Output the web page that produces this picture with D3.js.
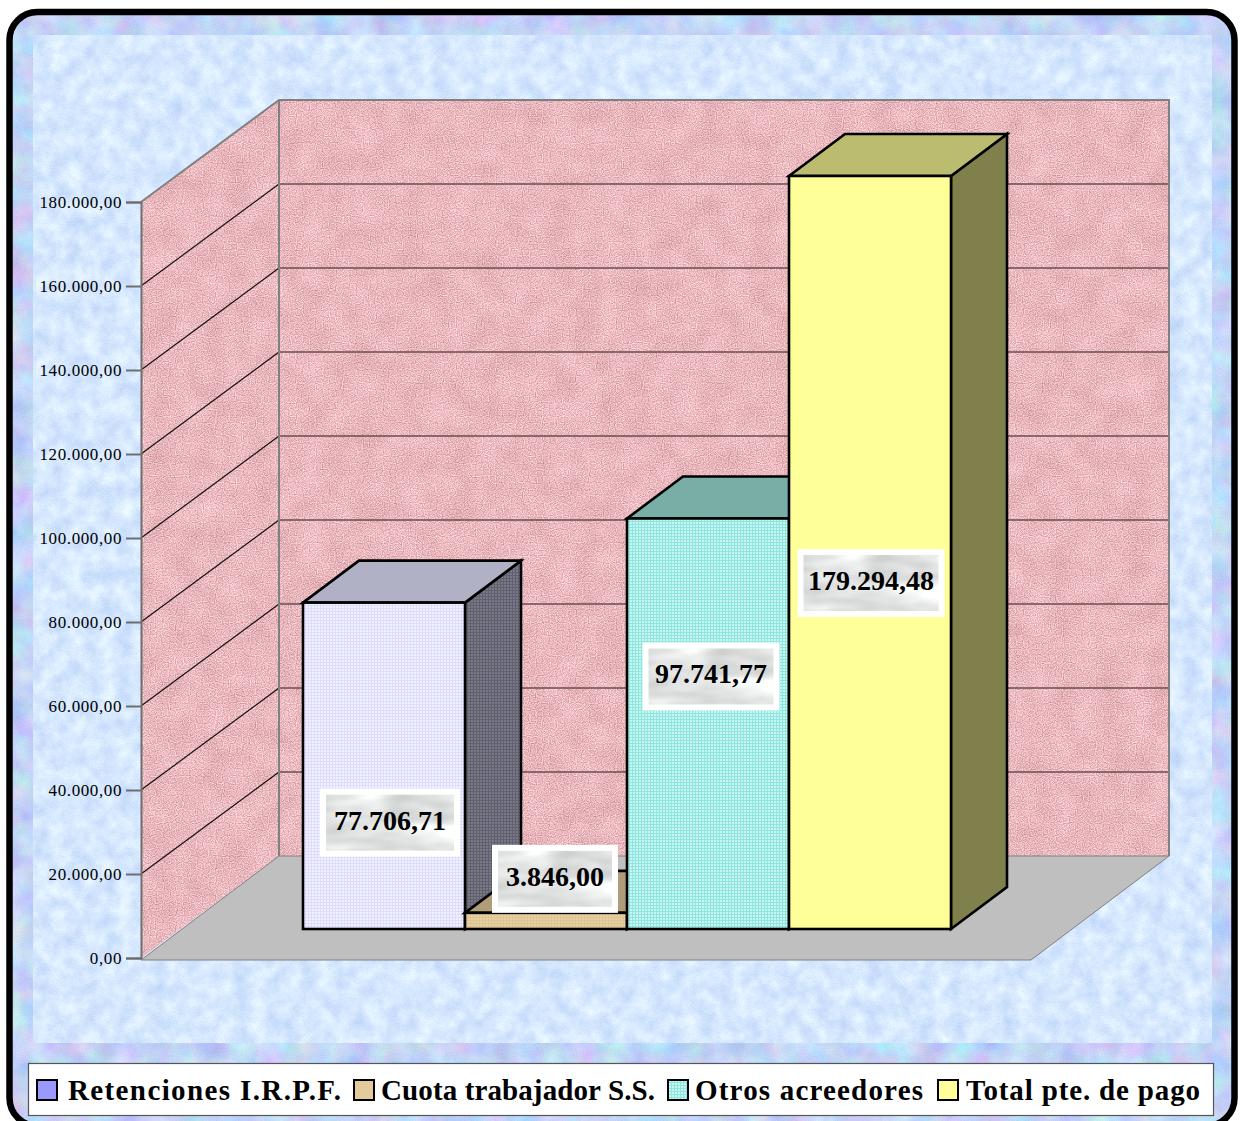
<!DOCTYPE html>
<html>
<head>
<meta charset="utf-8">
<script src="https://cdn.jsdelivr.net/npm/d3@7"></script>
<style>
  html, body { margin: 0; padding: 0; background: #fff; }
  svg { display: block; }
  text { font-family: "Liberation Serif", serif; fill: #000; }
</style>
</head>
<body>
<svg id="chart" width="1241" height="1121"></svg>
<script>
const categories = ["Retenciones I.R.P.F.", "Cuota trabajador S.S.", "Otros acreedores", "Total pte. de pago"];
const values = [77706.71, 3846.00, 97741.77, 179294.48];
const yTicks = [0, 20000, 40000, 60000, 80000, 100000, 120000, 140000, 160000, 180000];

const frontColors = ["url(#dotsLilac)", "url(#dotsSand)", "url(#dotsTeal)", "#ffff99"];
const topColors = ["#b1b1c6", "#b09c78", "#78aea6", "#bcbc70"];
const sideColors = ["url(#dotsSlate)", "#8f7f60", "#5f8f88", "#80804c"];
const legendColors = ["#9999ff", "#e3cb9b", "url(#dotsTeal)", "#ffff99"];
const legendSwatchX = [37, 354, 668, 938];
const legendTextX = [68, 381, 695, 966];
const legendTextWidth = [273, 274, 228, 234];
// label centre relative to the bar's top-left-front corner
const labelShift = [[87, 220], [90, -34], [84, 158], [82, 407]];
const labelSize = [[140, 68], [126, 68], [137, 68], [147, 68]];

const depthX = 138, depthY = -102;      // wall depth
const barDepthX = 56, barDepthY = -42;  // bar depth
const barBase = 929;

const svg = d3.select("#chart");
const defs = svg.append("defs");
const es = d3.formatLocale({ decimal: ",", thousands: ".", grouping: [3], currency: ["", "€"] });
const fmt = es.format(",.2f");

const y = d3.scaleLinear().domain([0, 180000]).range([958, 202]);
const x = d3.scaleBand().domain(categories).range([303, 951]);
const barH = (v) => y(0) - y(v);

// mono: one noise channel drives r, g and b; otherwise each channel has its own noise
function addTexture(id, base, fineAmp, coarseAmp, coarseFreq, seed, mono) {
  const f = defs.append("filter").attr("id", id)
    .attr("x", 0).attr("y", 0).attr("width", 1).attr("height", 1)
    .attr("color-interpolation-filters", "sRGB");
  const row = (c, amp, ch) => {
    const cols = [0, 0, 0, 0];
    cols[ch] = amp;
    return `${cols.join(" ")} ${c / 255 - amp / 2}`;
  };
  f.append("feTurbulence").attr("type", "fractalNoise").attr("baseFrequency", 0.85)
    .attr("numOctaves", 1).attr("seed", seed).attr("result", "fine");
  f.append("feColorMatrix").attr("in", "fine").attr("type", "matrix")
    .attr("values", `${row(base[0], fineAmp[0], 0)} ${row(base[1], fineAmp[1], 0)} ${row(base[2], fineAmp[2], 0)} 0 0 0 0 1`)
    .attr("result", "fineC");
  f.append("feTurbulence").attr("type", "fractalNoise").attr("baseFrequency", coarseFreq)
    .attr("numOctaves", 3).attr("seed", seed + 3).attr("result", "coarse");
  f.append("feColorMatrix").attr("in", "coarse").attr("type", "matrix")
    .attr("values", `${row(127.5, coarseAmp[0], 0)} ${row(127.5, coarseAmp[1], mono ? 0 : 1)} ${row(127.5, coarseAmp[2], mono ? 0 : 2)} 0 0 0 0 1`)
    .attr("result", "coarseC");
  f.append("feComposite").attr("in", "fineC").attr("in2", "coarseC").attr("operator", "arithmetic")
    .attr("k1", 0).attr("k2", 1).attr("k3", 1).attr("k4", -0.5).attr("result", "mix");
  f.append("feComposite").attr("in", "mix").attr("in2", "SourceAlpha").attr("operator", "in");
}

function addDots(id, bg, dot) {
  const p = defs.append("pattern").attr("id", id).attr("patternUnits", "userSpaceOnUse")
    .attr("width", 3).attr("height", 3);
  p.append("rect").attr("width", 3).attr("height", 3).attr("fill", bg);
  p.append("rect").attr("width", 2).attr("height", 2).attr("fill", dot);
}

addTexture("texOuter", [194, 212, 246], [0.1, 0.1, 0.06], [0.3, 0.3, 0.14], 0.035, 2, false);
addTexture("texInner", [214, 232, 254], [0.14, 0.1, 0.04], [0.22, 0.18, 0.05], 0.06, 7, true);
addTexture("texWall", [234, 184, 190], [0.6, 0.55, 0.5], [0.1, 0.12, 0.12], 0.04, 11, true);
addTexture("texMarble", [222, 224, 224], [0.03, 0.03, 0.03], [0.55, 0.55, 0.55], "0.012 0.035", 5, true);
addDots("dotsLilac", "#dcdcff", "#f2f2ff");
addDots("dotsSand", "#dcc496", "#e8d0a0");
addDots("dotsTeal", "#8fe6e0", "#c8f5f0");
addDots("dotsSlate", "#60606f", "#787888");

// page background and frame
const clipFrame = defs.append("clipPath").attr("id", "frameClip");
clipFrame.append("rect").attr("x", 9).attr("y", 12).attr("width", 1226).attr("height", 1114).attr("rx", 28);
svg.append("rect").attr("x", 9).attr("y", 12).attr("width", 1226).attr("height", 1114)
  .attr("clip-path", "url(#frameClip)").attr("fill", "#000").attr("filter", "url(#texOuter)");
svg.append("rect").attr("x", 33).attr("y", 35).attr("width", 1179).attr("height", 1008)
  .attr("fill", "#000").attr("filter", "url(#texInner)");
svg.append("rect").attr("x", 9.5).attr("y", 12).attr("width", 1225).attr("height", 1114).attr("rx", 28)
  .attr("fill", "none").attr("stroke", "#000").attr("stroke-width", 6.5);

// walls
const line = d3.line();
const wallX0 = x.range()[0] - 162;
const wallX1 = wallX0 + 1028;
const yTop = y(180000), yZero = y(0);

svg.append("path")
  .attr("d", line([[wallX0, yZero], [wallX0 + depthX, yZero + depthY], [wallX0 + depthX, yTop + depthY], [wallX0, yTop]]) + "Z")
  .attr("fill", "#000").attr("filter", "url(#texWall)");
svg.append("rect")
  .attr("x", wallX0 + depthX).attr("y", yTop + depthY)
  .attr("width", wallX1 - wallX0 - depthX).attr("height", yZero - yTop)
  .attr("fill", "#000").attr("filter", "url(#texWall)");

// grid
const inner = yTicks.slice(1, -1);
svg.append("g").selectAll("line").data(inner).join("line")
  .attr("x1", wallX0 + depthX).attr("x2", wallX1)
  .attr("y1", (d) => y(d) + depthY).attr("y2", (d) => y(d) + depthY)
  .attr("stroke", "#6a4c50").attr("stroke-width", 1.3);
svg.append("g").selectAll("line").data(inner).join("line")
  .attr("x1", wallX0).attr("x2", wallX0 + depthX)
  .attr("y1", (d) => y(d)).attr("y2", (d) => y(d) + depthY)
  .attr("stroke", "#111").attr("stroke-width", 1.2);

// floor
svg.append("path")
  .attr("d", line([[wallX0, yZero + 2], [wallX0 + depthX, yZero + depthY], [wallX1, yZero + depthY], [wallX1 - depthX, yZero + 2]]) + "Z")
  .attr("fill", "#bfbfbf").attr("stroke", "#808080").attr("stroke-width", 1);

// wall outlines
svg.append("path")
  .attr("d", line([[wallX0, yTop], [wallX0 + depthX, yTop + depthY], [wallX1, yTop + depthY], [wallX1, yZero + depthY]]))
  .attr("fill", "none").attr("stroke", "#808080").attr("stroke-width", 2);
svg.append("line")
  .attr("x1", wallX0 + depthX).attr("x2", wallX0 + depthX)
  .attr("y1", yTop + depthY).attr("y2", yZero + depthY)
  .attr("stroke", "#808080").attr("stroke-width", 2);

// axis
const axis = d3.axisLeft(y).tickValues(yTicks).tickSize(15).tickPadding(4).tickFormat(fmt);
const gAxis = svg.append("g").attr("transform", `translate(${wallX0},0)`).call(axis);
gAxis.selectAll("path, line").attr("stroke", "#6e6e6e").attr("stroke-width", 2);
gAxis.selectAll("text").attr("font-family", "Liberation Serif").attr("font-size", 17).attr("letter-spacing", 0.6);

// bars
const bars = svg.append("g").selectAll("g").data(categories).join("g");
const barStroke = (sel) => sel.attr("stroke", "#000").attr("stroke-width", 2.6).attr("stroke-linejoin", "miter");
bars.each(function (cat, i) {
  const g = d3.select(this);
  const x0 = x(cat), x1 = x0 + x.bandwidth();
  const top = barBase - barH(values[i]);
  g.append("path")
    .attr("d", line([[x1, barBase], [x1 + barDepthX, barBase + barDepthY], [x1 + barDepthX, top + barDepthY], [x1, top]]) + "Z")
    .attr("fill", sideColors[i]).call(barStroke);
  g.append("path")
    .attr("d", line([[x0, top], [x0 + barDepthX, top + barDepthY], [x1 + barDepthX, top + barDepthY], [x1, top]]) + "Z")
    .attr("fill", topColors[i]).call(barStroke);
  g.append("rect")
    .attr("x", x0).attr("y", top).attr("width", x.bandwidth()).attr("height", barH(values[i]))
    .attr("fill", frontColors[i]).call(barStroke);
});

// value labels
const labels = svg.append("g").selectAll("g").data(categories).join("g")
  .attr("transform", (cat, i) => {
    const top = barBase - barH(values[i]);
    return `translate(${x(cat) + labelShift[i][0]},${top + labelShift[i][1]})`;
  });
labels.append("rect")
  .attr("x", (d, i) => -labelSize[i][0] / 2).attr("y", (d, i) => -labelSize[i][1] / 2)
  .attr("width", (d, i) => labelSize[i][0]).attr("height", (d, i) => labelSize[i][1])
  .attr("fill", "#fff");
labels.append("rect")
  .attr("x", (d, i) => -labelSize[i][0] / 2 + 6).attr("y", (d, i) => -labelSize[i][1] / 2 + 6)
  .attr("width", (d, i) => labelSize[i][0] - 12).attr("height", (d, i) => labelSize[i][1] - 12)
  .attr("fill", "#000").attr("filter", "url(#texMarble)");
labels.append("text")
  .attr("text-anchor", "middle").attr("y", 7)
  .attr("font-size", 28).attr("font-weight", "bold")
  .text((d, i) => fmt(values[i]));

// legend
const legend = svg.append("g");
legend.append("rect").attr("x", 28.5).attr("y", 1063.5).attr("width", 1185).attr("height", 52)
  .attr("fill", "#fff").attr("stroke", "#555").attr("stroke-width", 1.2);
const items = legend.selectAll("g").data(categories).join("g");
items.append("rect")
  .attr("x", (d, i) => legendSwatchX[i]).attr("y", 1080).attr("width", 20).attr("height", 20)
  .attr("fill", (d, i) => legendColors[i]).attr("stroke", "#000").attr("stroke-width", 2);
items.append("text")
  .attr("x", (d, i) => legendTextX[i]).attr("y", 1100)
  .attr("font-size", 29).attr("font-weight", "bold")
  .attr("textLength", (d, i) => legendTextWidth[i]).attr("lengthAdjust", "spacing")
  .text((d) => d);
</script>
</body>
</html>
